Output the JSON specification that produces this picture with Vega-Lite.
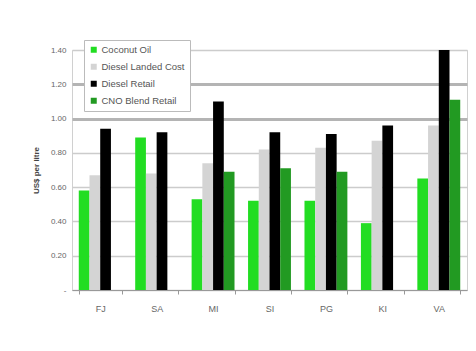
{
  "$schema": "https://vega.github.io/schema/vega-lite/v6.json",
  "width": 395,
  "height": 240,
  "autosize": "none",
  "padding": {"left": 72, "top": 50, "right": 9, "bottom": 61},
  "background": "white",
  "config": {
    "font": "Liberation Sans",
    "view": {"stroke": "#d0d0d0", "strokeWidth": 1}
  },
  "data": {
    "values": [
      {"country": "FJ", "series": "Coconut Oil", "value": 0.58},
      {"country": "FJ", "series": "Diesel Landed Cost", "value": 0.67},
      {"country": "FJ", "series": "Diesel Retail", "value": 0.94},
      {"country": "SA", "series": "Coconut Oil", "value": 0.89},
      {"country": "SA", "series": "Diesel Landed Cost", "value": 0.68},
      {"country": "SA", "series": "Diesel Retail", "value": 0.92},
      {"country": "MI", "series": "Coconut Oil", "value": 0.53},
      {"country": "MI", "series": "Diesel Landed Cost", "value": 0.74},
      {"country": "MI", "series": "Diesel Retail", "value": 1.10},
      {"country": "MI", "series": "CNO Blend Retail", "value": 0.69},
      {"country": "SI", "series": "Coconut Oil", "value": 0.52},
      {"country": "SI", "series": "Diesel Landed Cost", "value": 0.82},
      {"country": "SI", "series": "Diesel Retail", "value": 0.92},
      {"country": "SI", "series": "CNO Blend Retail", "value": 0.71},
      {"country": "PG", "series": "Coconut Oil", "value": 0.52},
      {"country": "PG", "series": "Diesel Landed Cost", "value": 0.83},
      {"country": "PG", "series": "Diesel Retail", "value": 0.91},
      {"country": "PG", "series": "CNO Blend Retail", "value": 0.69},
      {"country": "KI", "series": "Coconut Oil", "value": 0.39},
      {"country": "KI", "series": "Diesel Landed Cost", "value": 0.87},
      {"country": "KI", "series": "Diesel Retail", "value": 0.96},
      {"country": "VA", "series": "Coconut Oil", "value": 0.65},
      {"country": "VA", "series": "Diesel Landed Cost", "value": 0.96},
      {"country": "VA", "series": "Diesel Retail", "value": 1.40},
      {"country": "VA", "series": "CNO Blend Retail", "value": 1.11}
    ]
  },
  "mark": {"type": "bar"},
  "encoding": {
    "x": {
      "field": "country",
      "type": "nominal",
      "sort": ["FJ", "SA", "MI", "SI", "PG", "KI", "VA"],
      "scale": {"paddingInner": 0.24, "paddingOuter": 0.12},
      "axis": {
        "title": null,
        "labelAngle": 0,
        "labelColor": "#666666",
        "labelFontSize": 9,
        "labelPadding": 10,
        "domainColor": "#999999",
        "tickColor": "#999999",
        "tickBand": "extent",
        "tickSize": 4
      }
    },
    "xOffset": {
      "field": "series",
      "type": "nominal",
      "sort": ["Coconut Oil", "Diesel Landed Cost", "Diesel Retail", "CNO Blend Retail"],
      "scale": {"paddingInner": 0, "paddingOuter": 0}
    },
    "y": {
      "field": "value",
      "type": "quantitative",
      "scale": {"domain": [0, 1.4], "nice": false},
      "axis": {
        "title": "US$ per litre",
        "titleFontSize": 8,
        "titleColor": "#444444",
        "titlePadding": 10,
        "values": [0, 0.2, 0.4, 0.6, 0.8, 1.0, 1.2, 1.4],
        "labelExpr": "datum.value == 0 ? '-' : format(datum.value, '.2f')",
        "labelColor": "#666666",
        "labelFontSize": 8,
        "labelPadding": 6,
        "domain": false,
        "ticks": false,
        "gridColor": {"condition": {"test": "datum.value == 1 || datum.value == 1.2", "value": "#b4b4b4"}, "value": "#cccccc"},
        "gridWidth": {"condition": {"test": "datum.value == 1 || datum.value == 1.2", "value": 3}, "value": 1.5}
      }
    },
    "color": {
      "field": "series",
      "type": "nominal",
      "sort": ["Coconut Oil", "Diesel Landed Cost", "Diesel Retail", "CNO Blend Retail"],
      "scale": {
        "domain": ["Coconut Oil", "Diesel Landed Cost", "Diesel Retail", "CNO Blend Retail"],
        "range": ["#22dd22", "#d4d4d4", "#000000", "#229a22"]
      },
      "legend": {
        "title": null,
        "orient": "none",
        "legendX": 12,
        "legendY": -10,
        "symbolType": "square",
        "symbolSize": 36,
        "labelFontSize": 9.5,
        "labelColor": "#555555",
        "labelOffset": 3,
        "rowPadding": 6,
        "padding": 5,
        "strokeColor": "#bbbbbb",
        "fillColor": "white"
      }
    }
  }
}
